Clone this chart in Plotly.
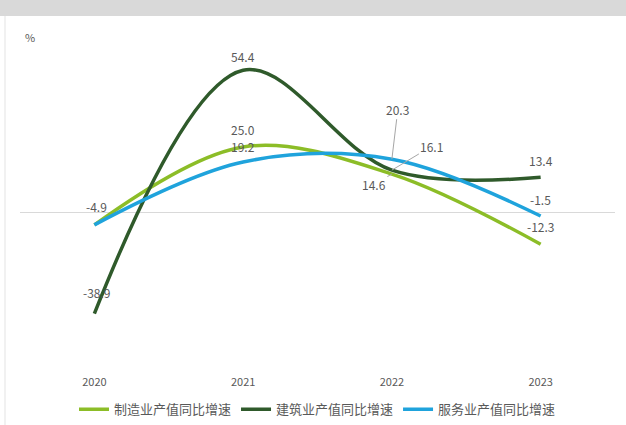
import plotly.graph_objects as go

years = ["2020", "2021", "2022", "2023"]
manufacturing = [-4.9, 25.0, 14.6, -12.3]
construction = [-38.9, 54.4, 16.1, 13.4]
services = [-4.9, 19.2, 20.3, -1.5]
series_names = ["制造业产值同比增速", "建筑业产值同比增速", "服务业产值同比增速"]
colors = ["#8cbd27", "#2f5a2b", "#1fa3dc"]

FONT = "Noto Sans CJK SC, Noto Sans, sans-serif"
xi = list(range(len(years)))

fig = go.Figure()
for name, vals, col in zip(series_names, [manufacturing, construction, services], colors):
    fig.add_trace(go.Scatter(
        x=xi, y=vals, mode="lines", name=name,
        line=dict(color=col, width=3.5, shape="spline", smoothing=1.0),
    ))

ann = []
def lab(i, v, dy, dx=0):
    ann.append(dict(x=i, y=v, xref="x", yref="y", text=f"{v:.1f}", showarrow=False,
                    yshift=dy, xshift=dx, font=dict(size=12, color="#595959", family=FONT)))

# 2020
lab(0, manufacturing[0], 18, 2)
lab(0, construction[0], 21, 2)
# 2021
lab(1, construction[1], 14)
lab(1, manufacturing[1], 17)
lab(1, services[1], 16)
# 2023
lab(3, construction[3], 17)
lab(3, services[3], 17)
lab(3, manufacturing[3], 18)

# 2022 with leader lines
lead = [(services[2], 6, -50), (construction[2], 40, -24), (manufacturing[2], -18, 10)]
for v, ax, ay in lead:
    ann.append(dict(x=2, y=v, xref="x", yref="y", text=f"{v:.1f}", showarrow=True,
                    arrowhead=0, arrowwidth=1, arrowcolor="#a6a6a6", ax=ax, ay=ay,
                    font=dict(size=12, color="#595959", family=FONT)))

ann.append(dict(x=0.017, y=1.009, xref="paper", yref="paper", text="%", showarrow=False,
                xanchor="center", yanchor="middle", font=dict(size=11, color="#595959", family=FONT)))

shapes = [
    dict(type="rect", xref="paper", yref="paper", x0=-0.05, x1=1.05, y0=1.0736, y1=1.2,
         fillcolor="#d9d9d9", line=dict(width=0), layer="below"),
    dict(type="line", xref="paper", yref="paper", x0=-0.0252, x1=-0.0252, y0=-0.2, y1=1.0736,
         line=dict(color="#e3e3e3", width=1)),
]

fig.update_layout(
    width=626, height=425,
    margin=dict(l=20, r=11, t=40, b=59, autoexpand=False),
    paper_bgcolor="white", plot_bgcolor="white",
    font=dict(family=FONT, color="#595959", size=12),
    xaxis=dict(range=[-0.5, 3.5], tickvals=xi, ticktext=years, showgrid=False,
               zeroline=False, showline=False, ticks="outside", ticklen=6, tickcolor="rgba(0,0,0,0)",
               tickfont=dict(size=11, color="#595959")),
    yaxis=dict(range=[-59, 66], showticklabels=False, showgrid=False,
               zeroline=True, zerolinecolor="#d9d9d9", zerolinewidth=1, showline=False),
    showlegend=True,
    legend=dict(orientation="h", x=0.5, xanchor="center", yref="container", y=0.072, yanchor="top",
                font=dict(size=13, color="#595959", family=FONT), itemwidth=30,
                tracegroupgap=0),
    annotations=ann, shapes=shapes,
)

fig.write_html("out.html")
